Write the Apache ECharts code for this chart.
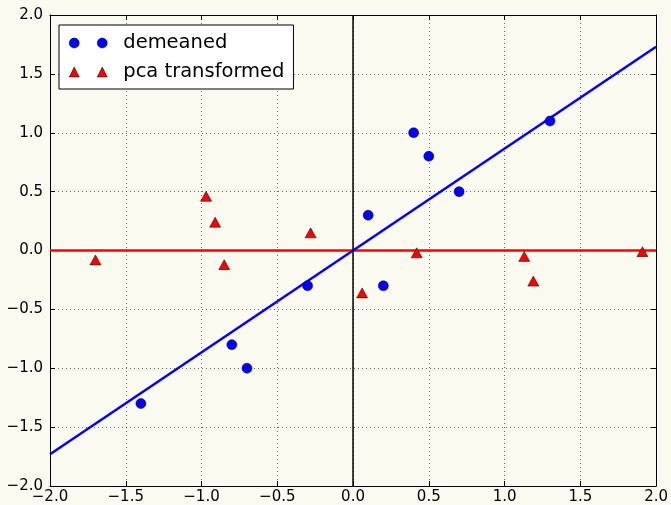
<!DOCTYPE html>
<html><head><meta charset="utf-8">
<script src="https://cdn.jsdelivr.net/npm/echarts@6/dist/echarts.min.js"></script>
<style>html,body{margin:0;padding:0;background:#fafaf0;}#c{width:671px;height:505px;}</style>
</head><body><div id="c"></div>
<script>
// Data
const demeanedX = [0.4, 0.5, 0.7, 1.3, 0.1, 0.2, -0.3, -0.8, -0.7, -1.4];
const demeanedY = [1.0, 0.8, 0.5, 1.1, 0.3, -0.3, -0.3, -0.8, -1.0, -1.3];
const pcaX = [-0.97, -0.91, -0.85, -1.70, -0.28, 0.06, 0.42, 1.13, 1.19, 1.91];
const pcaY = [0.46, 0.24, -0.12, -0.08, 0.15, -0.36, -0.02, -0.05, -0.26, -0.01];
const pcLineX = [-2, 2];
const pcLineY = [-1.73, 1.73];
const hLineX = [-2, 2];
const hLineY = [0, 0];
const vLineX = [0, 0];
const vLineY = [-2, 2];
const tickValues = [-2, -1.5, -1, -0.5, 0, 0.5, 1, 1.5, 2];

const zip = (a, b) => a.map((v, i) => [v, b[i]]);
const fmt = v => (v < -1e-9 ? '\u2212' : '') + Math.abs(v).toFixed(1);
const FONT = 'DejaVu Sans';

function axis(pos, showLabel, isX) {
  return {
    type: 'value', position: pos, min: -2, max: 2, interval: 0.5,
    axisLine: { show: true, onZero: false, lineStyle: { color: '#000', width: 1 } },
    axisTick: { show: true, inside: true, length: 5, lineStyle: { color: '#000', width: 1 } },
    axisLabel: showLabel ? {
      show: true, formatter: fmt, color: '#000', fontFamily: FONT, fontSize: 15,
      margin: isX ? 4 : 7, showMinLabel: true, showMaxLabel: true, hideOverlap: false
    } : { show: false },
    splitLine: showLabel ? { show: true, lineStyle: { color: 'rgba(0,0,0,0.6)', width: 1, type: [1, 3] } } : { show: false }
  };
}

const chart = echarts.init(document.getElementById('c'), null, { renderer: 'canvas' });
chart.setOption({
  backgroundColor: '#fafaf0',
  animation: false,
  grid: { left: 50, right: 13, top: 15, bottom: 18, containLabel: false },
  xAxis: [axis('bottom', true, true), axis('top', false, true)],
  yAxis: [axis('left', true, false), axis('right', false, false)],
  legend: {
    orient: 'vertical', left: 59, top: 25,
    backgroundColor: '#ffffff', borderColor: '#000', borderWidth: 1,
    padding: [8, 9, 7, 10], itemGap: 9, itemWidth: 38, itemHeight: 10,
    itemStyle: { borderWidth: 0.5, borderColor: '#000' },
    textStyle: { fontFamily: FONT, fontSize: 19.5, color: '#000', lineHeight: 20, padding: [0, 0, 0, 11] },
    data: [
      { name: 'demeaned', icon: 'path://M0,5A5,5,0,1,1,10,5A5,5,0,1,1,0,5ZM28,5A5,5,0,1,1,38,5A5,5,0,1,1,28,5Z' },
      { name: 'pca transformed', icon: 'path://M5,0L10,10L0,10ZM33,0L38,10L28,10Z' }
    ]
  },
  series: [
    { type: 'line', data: zip(hLineX, hLineY), showSymbol: false, symbol: 'none',
      lineStyle: { color: '#ff0000', width: 2.5 }, z: 2, silent: true },
    { type: 'line', data: zip(pcLineX, pcLineY), showSymbol: false, symbol: 'none',
      lineStyle: { color: '#0000ff', width: 2.5 }, z: 3, silent: true },
    { type: 'line', data: zip(vLineX, vLineY), showSymbol: false, symbol: 'none',
      lineStyle: { color: '#000000', width: 1.5 }, z: 4, silent: true },
    { name: 'demeaned', type: 'scatter', data: zip(demeanedX, demeanedY), symbol: 'circle', symbolSize: 10,
      itemStyle: { color: '#0000ff', borderColor: '#000', borderWidth: 0.5, opacity: 1 }, z: 5 },
    { name: 'pca transformed', type: 'scatter', data: zip(pcaX, pcaY), symbol: 'triangle', symbolSize: [11, 10],
      itemStyle: { color: '#ff0000', borderColor: '#000', borderWidth: 0.5, opacity: 1 }, z: 6 }
  ]
});
</script>
</body></html>
